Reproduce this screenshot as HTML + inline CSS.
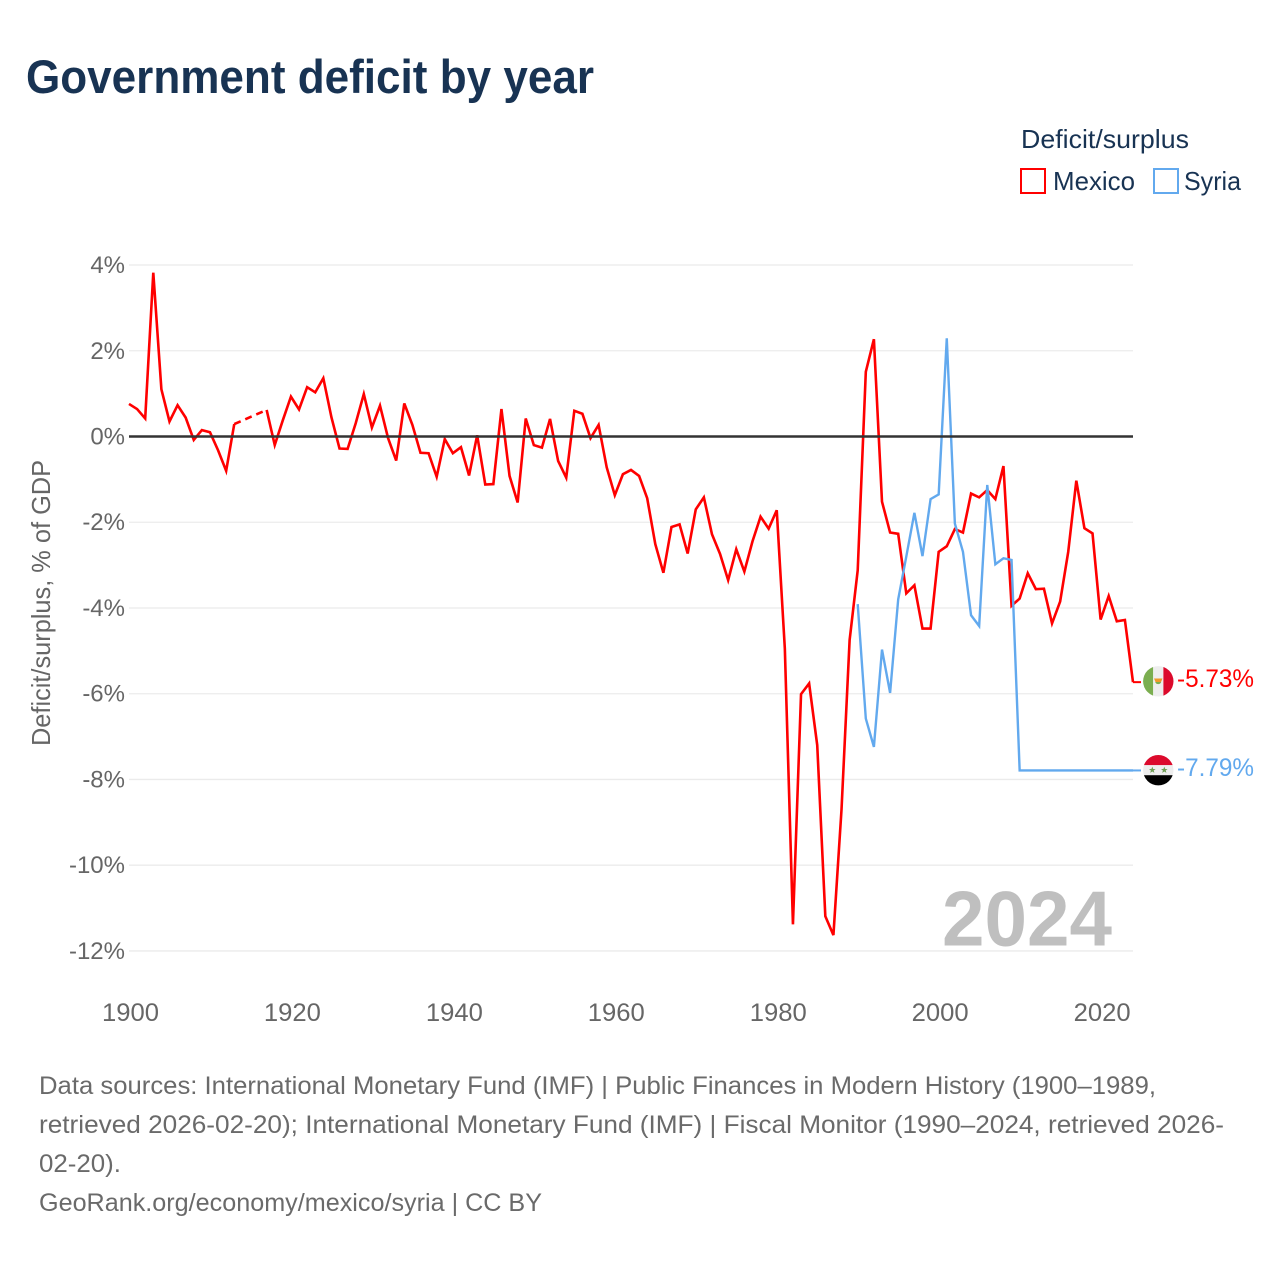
<!DOCTYPE html>
<html lang="en">
<head>
<meta charset="utf-8">
<title>Government deficit by year</title>
<style>
  html, body { margin: 0; padding: 0; background: #ffffff; }
  body { width: 1280px; height: 1280px; overflow: hidden; }
  svg { display: block; font-family: "Liberation Sans", sans-serif; }
  .tick { fill: #666666; font-size: 24px; }
  .foot { fill: #6a6a6a; font-size: 25px; }
  .legend { fill: #183353; font-size: 26px; }
</style>
</head>
<body>
<svg id="chart" width="1280" height="1280" viewBox="0 0 1280 1280" xmlns="http://www.w3.org/2000/svg">
  <defs>
    <clipPath id="flag-clip-mx"><circle cx="1158.3" cy="681.3" r="15.2"></circle></clipPath>
    <clipPath id="flag-clip-sy"><circle cx="1158.3" cy="770.2" r="15.2"></circle></clipPath>
  </defs>

  <text x="26" y="93" font-size="47" font-weight="700" fill="#183353" textLength="568" lengthAdjust="spacingAndGlyphs">Government deficit by year</text>

  <g>
    <text class="legend" x="1021" y="148" textLength="168" lengthAdjust="spacingAndGlyphs">Deficit/surplus</text>
    <rect x="1021" y="169" width="24" height="24" fill="#ffffff" stroke="#ff0000" stroke-width="2"></rect>
    <text class="legend" x="1053" y="190" textLength="82" lengthAdjust="spacingAndGlyphs">Mexico</text>
    <rect x="1154" y="169" width="24" height="24" fill="#ffffff" stroke="#62a9ee" stroke-width="2"></rect>
    <text class="legend" x="1184" y="190" textLength="57" lengthAdjust="spacingAndGlyphs">Syria</text>
  </g>

  <text transform="translate(50,603) rotate(-90)" text-anchor="middle" font-size="26" fill="#666666" textLength="286" lengthAdjust="spacingAndGlyphs">Deficit/surplus, % of GDP</text>

  <g id="grid"></g>
  <g id="y-ticks"></g>
  <g id="x-ticks"></g>

  <text x="942" y="945.5" font-size="78" font-weight="700" fill="#bfbfbf" textLength="170" lengthAdjust="spacingAndGlyphs">2024</text>

  <g id="series"></g>
  <line id="zero-line" stroke="#333333" stroke-width="2.4"></line>
  <g id="series-front"></g>

  <g clip-path="url(#flag-clip-mx)">
    <rect x="1143" y="666" width="10.2" height="31" fill="#7bae50"></rect>
    <rect x="1153.2" y="666" width="10.2" height="31" fill="#eeeeee"></rect>
    <rect x="1163.4" y="666" width="10.2" height="31" fill="#dc0a2c"></rect>
    <path d="M1154 678.5h8.5l-1.5 3.5a3 3 0 0 1-5.5 0z" fill="#ef9a2a"></path>
    <path d="M1155.2 682a3.2 3.2 0 0 0 6 0z" fill="#7bae50"></path>
  </g>
  <g clip-path="url(#flag-clip-sy)">
    <rect x="1143" y="754.8" width="31" height="10.4" fill="#dc0a2c"></rect>
    <rect x="1143" y="765.2" width="31" height="10" fill="#eeeeee"></rect>
    <rect x="1143" y="775.2" width="31" height="10.4" fill="#000000"></rect>
    <polygon points="1152.3,766.6 1153.2,769 1155.6,769 1153.7,770.5 1154.4,772.9 1152.3,771.5 1150.2,772.9 1150.9,770.5 1149,769 1151.4,769" fill="#6f9e55"></polygon>
    <polygon points="1164.3,766.6 1165.2,769 1167.6,769 1165.7,770.5 1166.4,772.9 1164.3,771.5 1162.2,772.9 1162.9,770.5 1161,769 1163.4,769" fill="#6f9e55"></polygon>
  </g>

  <text x="1177" y="687" font-size="25" fill="#ff0000" textLength="77" lengthAdjust="spacingAndGlyphs">-5.73%</text>
  <text x="1177" y="776" font-size="25" fill="#62a9ee" textLength="77" lengthAdjust="spacingAndGlyphs">-7.79%</text>

  <g>
    <text class="foot" x="39" y="1094" textLength="1117" lengthAdjust="spacingAndGlyphs">Data sources: International Monetary Fund (IMF) | Public Finances in Modern History (1900–1989,</text>
    <text class="foot" x="39" y="1133" textLength="1185" lengthAdjust="spacingAndGlyphs">retrieved 2026-02-20); International Monetary Fund (IMF) | Fiscal Monitor (1990–2024, retrieved 2026-</text>
    <text class="foot" x="39" y="1172" textLength="82" lengthAdjust="spacingAndGlyphs">02-20).</text>
    <text class="foot" x="39" y="1211" textLength="503" lengthAdjust="spacingAndGlyphs">GeoRank.org/economy/mexico/syria | CC BY</text>
  </g>
</svg>

<script>
// Chart data (percent of GDP). null = no data for that year.
const mexicoStartYear = 1900;
const mexicoValues = [
  0.76, 0.64, 0.42, 3.82, 1.10, 0.35, 0.73, 0.44, -0.08, 0.15,
  0.10, -0.32, -0.80, 0.29, null, null, null, 0.62, -0.20, 0.38,
  0.93, 0.63, 1.15, 1.03, 1.36, 0.45, -0.28, -0.29, 0.31, 0.99,
  0.21, 0.72, -0.04, -0.56, 0.77, 0.27, -0.38, -0.39, -0.94, -0.06,
  -0.39, -0.25, -0.91, 0.03, -1.12, -1.11, 0.64, -0.92, -1.54, 0.42,
  -0.20, -0.26, 0.41, -0.57, -0.96, 0.60, 0.53, -0.04, 0.27, -0.72,
  -1.37, -0.88, -0.78, -0.92, -1.44, -2.51, -3.18, -2.11, -2.05, -2.73,
  -1.70, -1.42, -2.28, -2.74, -3.35, -2.63, -3.15, -2.45, -1.87, -2.15,
  -1.72, -4.95, -11.38, -6.01, -5.76, -7.20, -11.19, -11.63, -8.70, -4.75,
  -3.12, 1.51, 2.27, -1.52, -2.24, -2.27, -3.66, -3.47, -4.48, -4.48,
  -2.69, -2.56, -2.16, -2.24, -1.33, -1.42, -1.25, -1.46, -0.69, -3.95,
  -3.78, -3.19, -3.56, -3.55, -4.36, -3.85, -2.69, -1.03, -2.14, -2.26,
  -4.27, -3.72, -4.31, -4.28, -5.73
];
const syriaStartYear = 1990;
const syriaValues = [
  -3.91, -6.58, -7.24, -4.97, -5.98, -3.80, -2.80, -1.78, -2.79, -1.46,
  -1.35, 2.29, -2.03, -2.69, -4.17, -4.42, -1.13, -2.98, -2.84, -2.88,
  -7.79, -7.79, -7.79, -7.79, -7.79, -7.79, -7.79, -7.79, -7.79, -7.79,
  -7.79, -7.79, -7.79, -7.79, -7.79
];
const yTickValues = [4, 2, 0, -2, -4, -6, -8, -10, -12];
const xTickYears = [1900, 1920, 1940, 1960, 1980, 2000, 2020];

const SVG_NS = 'http://www.w3.org/2000/svg';
const MEXICO_COLOR = '#ff0000';
const SYRIA_COLOR = '#62a9ee';
const PLOT_LEFT = 129;
const PLOT_RIGHT = 1133;
const CONNECTOR_END = 1141;

function xScale(year) {
  return PLOT_LEFT + (year - 1900) * (PLOT_RIGHT - PLOT_LEFT) / 124;
}
function yScale(value) {
  return 436.5 - value * 42.87;
}
function makeEl(tag) {
  return document.createElementNS(SVG_NS, tag);
}

const gridGroup = document.getElementById('grid');
const yTickGroup = document.getElementById('y-ticks');
yTickValues.forEach(function (v) {
  if (v !== 0) {
    const line = makeEl('line');
    
    
    line.setAttribute('x1', PLOT_LEFT);
    line.setAttribute('x2', PLOT_RIGHT);
    line.setAttribute('y1', yScale(v));
    line.setAttribute('y2', yScale(v));
    line.setAttribute('stroke', '#ebebeb');
    line.setAttribute('stroke-width', '1.3');
    gridGroup.appendChild(line);
  }
  const label = makeEl('text');
  
  
  label.setAttribute('class', 'tick');
  label.setAttribute('x', 125);
  label.setAttribute('y', yScale(v) + 8);
  label.setAttribute('text-anchor', 'end');
  label.textContent = v + '%';
  yTickGroup.appendChild(label);
});

const xTickGroup = document.getElementById('x-ticks');
xTickYears.forEach(function (year) {
  const label = makeEl('text');
  
  
  label.setAttribute('class', 'tick');
  label.setAttribute('x', xScale(year) + 1.5);
  label.setAttribute('y', 1021);
  label.setAttribute('text-anchor', 'middle');
  label.style.fontSize = '25px';
  label.setAttribute('textLength', '57');
  label.setAttribute('lengthAdjust', 'spacingAndGlyphs');
  label.textContent = String(year);
  xTickGroup.appendChild(label);
});

const zero = document.getElementById('zero-line');
zero.setAttribute('x1', PLOT_LEFT);
zero.setAttribute('x2', PLOT_RIGHT);
zero.setAttribute('y1', yScale(0));
zero.setAttribute('y2', yScale(0));

const seriesGroup = document.getElementById('series');
const frontGroup = document.getElementById('series-front');

function pointsToString(points) {
  return points.map(function (p) {
    return xScale(p[0]).toFixed(2) + ',' + yScale(p[1]).toFixed(2);
  }).join(' ');
}

// Draws one series: solid runs of consecutive years, dashed across missing years.
function drawSeries(values, startYear, color, width, target) {
  let run = [];
  let lastPoint = null;
  let inGap = false;
  function flushRun() {
    if (run.length > 1) {
      const solid = makeEl('polyline');
      
      
      solid.setAttribute('points', pointsToString(run));
      solid.setAttribute('fill', 'none');
      solid.setAttribute('stroke', color);
      solid.setAttribute('stroke-width', width);
      solid.setAttribute('stroke-linejoin', 'miter');
      target.appendChild(solid);
    }
    run = [];
  }
  values.forEach(function (v, i) {
    const year = startYear + i;
    if (v === null) {
      if (!inGap) flushRun();
      inGap = true;
      return;
    }
    if (inGap && lastPoint) {
      const dashed = makeEl('polyline');
      
      
      dashed.setAttribute('points', pointsToString([lastPoint, [year, v]]));
      dashed.setAttribute('fill', 'none');
      dashed.setAttribute('stroke', color);
      dashed.setAttribute('stroke-width', width);
      dashed.setAttribute('stroke-dasharray', '7 5');
      target.appendChild(dashed);
    }
    inGap = false;
    run.push([year, v]);
    lastPoint = [year, v];
  });
  flushRun();
  return lastPoint;
}

const mexicoLast = drawSeries(mexicoValues, mexicoStartYear, MEXICO_COLOR, 2.6, seriesGroup);
const syriaLast = drawSeries(syriaValues, syriaStartYear, SYRIA_COLOR, 2.4, seriesGroup);

const mexicoConnector = makeEl('line');


mexicoConnector.setAttribute('x1', xScale(mexicoLast[0]));
mexicoConnector.setAttribute('x2', CONNECTOR_END);
mexicoConnector.setAttribute('y1', yScale(mexicoLast[1]));
mexicoConnector.setAttribute('y2', yScale(mexicoLast[1]));
mexicoConnector.setAttribute('stroke', MEXICO_COLOR);
mexicoConnector.setAttribute('stroke-width', '2');
frontGroup.appendChild(mexicoConnector);

const syriaConnector = makeEl('line');


syriaConnector.setAttribute('x1', xScale(syriaLast[0]));
syriaConnector.setAttribute('x2', CONNECTOR_END);
syriaConnector.setAttribute('y1', yScale(syriaLast[1]));
syriaConnector.setAttribute('y2', yScale(syriaLast[1]));
syriaConnector.setAttribute('stroke', SYRIA_COLOR);
syriaConnector.setAttribute('stroke-width', '2');
frontGroup.appendChild(syriaConnector);
</script>
</body>
</html>
